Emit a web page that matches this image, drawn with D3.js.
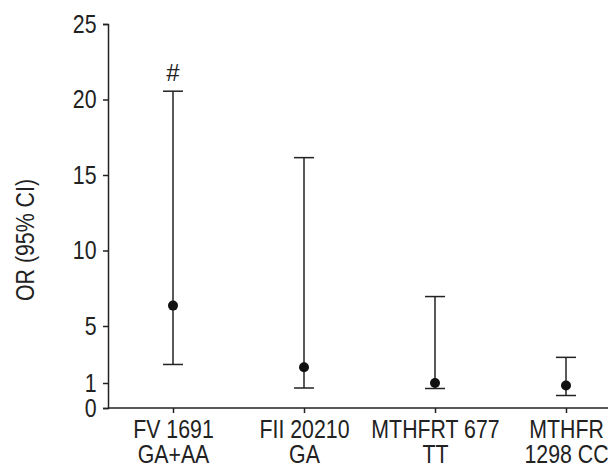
<!DOCTYPE html>
<html>
<head>
<meta charset="utf-8">
<script src="https://cdn.jsdelivr.net/npm/d3@7"></script>
<style>
  body { margin: 0; background: #fff; }
  text { font-family: "Liberation Sans", Arial, sans-serif; fill: #222; }
</style>
</head>
<body>
<div id="chart"></div>
<script>
// categories and values
var categories = ["FV 1691\nGA+AA", "FII 20210\nGA", "MTHFRT 677\nTT", "MTHFR\n1298 CC"];
var orValues = [6.35, 2.1, 1.0, 0.9];
var ciLow = [2.3, 0.8, 0.78, 0.5];
var ciHigh = [20.55, 16.15, 6.95, 2.8];
var marks = ["#", "", "", ""];
var yTicks = [0, 1, 5, 10, 15, 20, 25];

var width = 608, height = 464;
var narrow = "scale(0.82,1)";   // the original uses a condensed face

var svg = d3.select("#chart")
  .append("svg")
    .attr("width", width)
    .attr("height", height);

// y scale: the bottom step 0-1 is stretched, like the original
var y = d3.scaleLinear()
    .domain([0, 1, 5, 25])
    .range([408, 383, 326, 24]);

var x = d3.scalePoint()
    .domain(categories)
    .range([173, 566]);

// Y axis
var yAxis = svg.append("g")
    .attr("transform", "translate(108,0)")
    .call(d3.axisLeft(y).tickValues(yTicks).tickSizeOuter(0).tickSize(5).tickPadding(9));
yAxis.select(".domain").attr("stroke", "#222").attr("stroke-width", 1.5);
yAxis.selectAll(".tick line").attr("stroke", "#222").attr("stroke-width", 1.5);
yAxis.selectAll(".tick text")
    .style("font-size", "26px")
    .attr("fill", "#222")
    .attr("transform", narrow);

// X axis
var xAxis = svg.append("g")
    .attr("transform", "translate(0,408)")
    .call(d3.axisBottom(x).tickSize(5).tickSizeOuter(0).tickFormat(function(d) { return ""; }));
xAxis.select(".domain").remove();
xAxis.selectAll(".tick line").attr("stroke", "#222").attr("stroke-width", 1.5);
svg.append("line")
    .attr("x1", 108).attr("x2", 608)
    .attr("y1", 408).attr("y2", 408)
    .attr("stroke", "#222").attr("stroke-width", 1.5);

// two-line category labels
xAxis.selectAll(".tick").each(function(d) {
  var t = d3.select(this).select("text")
      .attr("y", 0)
      .attr("dy", null)
      .attr("transform", narrow)
      .style("font-size", "26px")
      .attr("fill", "#222");
  d.split("\n").forEach(function(line, i) {
    t.append("tspan")
      .attr("x", 0)
      .attr("y", 30 + i * 25)
      .text(line);
  });
});

// Y label
svg.append("text")
    .attr("transform", "translate(34,240) rotate(-90) " + narrow)
    .attr("text-anchor", "middle")
    .style("font-size", "26px")
    .text("OR (95% CI)");

// error bars
var rows = categories.map(function(c, i) {
  return { cat: c, or: orValues[i], lo: ciLow[i], hi: ciHigh[i], mark: marks[i] };
});

var g = svg.append("g");
var capW = 10;

g.selectAll(".whisker")
  .data(rows).enter().append("line")
    .attr("x1", function(d) { return x(d.cat); })
    .attr("x2", function(d) { return x(d.cat); })
    .attr("y1", function(d) { return y(d.lo); })
    .attr("y2", function(d) { return y(d.hi); })
    .attr("stroke", "#222").attr("stroke-width", 1.5);

g.selectAll(".capHi")
  .data(rows).enter().append("line")
    .attr("x1", function(d) { return x(d.cat) - capW; })
    .attr("x2", function(d) { return x(d.cat) + capW; })
    .attr("y1", function(d) { return y(d.hi); })
    .attr("y2", function(d) { return y(d.hi); })
    .attr("stroke", "#222").attr("stroke-width", 1.5);

g.selectAll(".capLo")
  .data(rows).enter().append("line")
    .attr("x1", function(d) { return x(d.cat) - capW; })
    .attr("x2", function(d) { return x(d.cat) + capW; })
    .attr("y1", function(d) { return y(d.lo); })
    .attr("y2", function(d) { return y(d.lo); })
    .attr("stroke", "#222").attr("stroke-width", 1.5);

g.selectAll(".dot")
  .data(rows).enter().append("circle")
    .attr("cx", function(d) { return x(d.cat); })
    .attr("cy", function(d) { return y(d.or); })
    .attr("r", 5)
    .attr("fill", "#111");

g.selectAll(".mark")
  .data(rows).enter().append("text")
    .attr("x", function(d) { return x(d.cat); })
    .attr("y", function(d) { return y(d.hi) - 10; })
    .attr("text-anchor", "middle")
    .style("font-size", "24px")
    .text(function(d) { return d.mark; });
</script>
</body>
</html>
